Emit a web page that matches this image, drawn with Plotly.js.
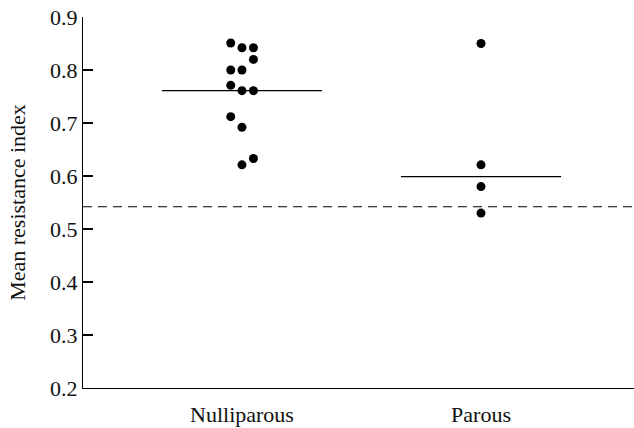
<!DOCTYPE html>
<html><head><meta charset="utf-8">
<script src="https://cdn.plot.ly/plotly-3.0.1.min.js"></script>
<style>html,body{margin:0;padding:0;background:#fff}#chart{width:634px;height:428px}</style>
</head><body><div id="chart"></div>
<script>
var categories = ["Nulliparous", "Parous"];
var nulliparousOffsets = [-0.047, 0, 0.048, 0.048, -0.047, 0, -0.047, 0, 0.048, -0.047, 0, 0.048, 0];
var nulliparousValues  = [0.851, 0.842, 0.842, 0.820, 0.800, 0.800, 0.771, 0.761, 0.761, 0.712, 0.692, 0.633, 0.621];
var parousOffsets = [0, 0, 0, 0];
var parousValues  = [0.850, 0.621, 0.580, 0.530];
var groupMeans = [0.761, 0.599];
var referenceLine = 0.542;

var font = "Liberation Serif";
var halfWidth = 0.335;

var traces = [];
traces.push({
  x: nulliparousOffsets.map(function(o){return 0 + o;}),
  y: nulliparousValues, type: "scatter", mode: "markers",
  marker: {color: "#000", size: 9}, hoverinfo: "y", showlegend: false
});
traces.push({
  x: parousOffsets.map(function(o){return 1 + o;}),
  y: parousValues, type: "scatter", mode: "markers",
  marker: {color: "#000", size: 9}, hoverinfo: "y", showlegend: false
});
groupMeans.forEach(function(m, i){
  traces.push({
    x: [i - halfWidth, i + halfWidth], y: [m, m], type: "scatter", mode: "lines",
    line: {color: "#000", width: 1.2}, hoverinfo: "y", showlegend: false
  });
});
traces.push({
  x: [-0.665, 1.64], y: [referenceLine, referenceLine], type: "scatter", mode: "lines",
  line: {color: "#000", width: 1.2, dash: "9px,6px"}, hoverinfo: "y", showlegend: false, cliponaxis: false
});

var layout = {
  width: 634, height: 428,
  margin: {l: 83, r: 0, t: 17, b: 40},
  paper_bgcolor: "#fff", plot_bgcolor: "#fff",
  font: {family: font, size: 22, color: "#111"},
  showlegend: false,
  xaxis: {
    range: [-0.665, 1.64], tickvals: [0, 1], ticktext: categories,
    showline: true, linecolor: "#000", linewidth: 1.2, ticks: "", showgrid: false, zeroline: false,
    tickfont: {family: font, size: 22}, ticklabelstandoff: 6, fixedrange: true
  },
  yaxis: {
    range: [0.2, 0.9], tickvals: [0.2,0.3,0.4,0.5,0.6,0.7,0.8,0.9],
    ticktext: ["0.2","0.3","0.4","0.5","0.6","0.7","0.8","0.9"],
    showline: true, linecolor: "#000", linewidth: 1.2, ticks: "inside", ticklen: 10, tickwidth: 1.2, tickcolor: "#000",
    showgrid: false, zeroline: false, tickfont: {family: font, size: 22},
    title: {text: "Mean resistance index", font: {family: font, size: 22}, standoff: 18}, fixedrange: true
  }
};
Plotly.newPlot("chart", traces, layout, {displayModeBar: false, staticPlot: true});
</script></body></html>
